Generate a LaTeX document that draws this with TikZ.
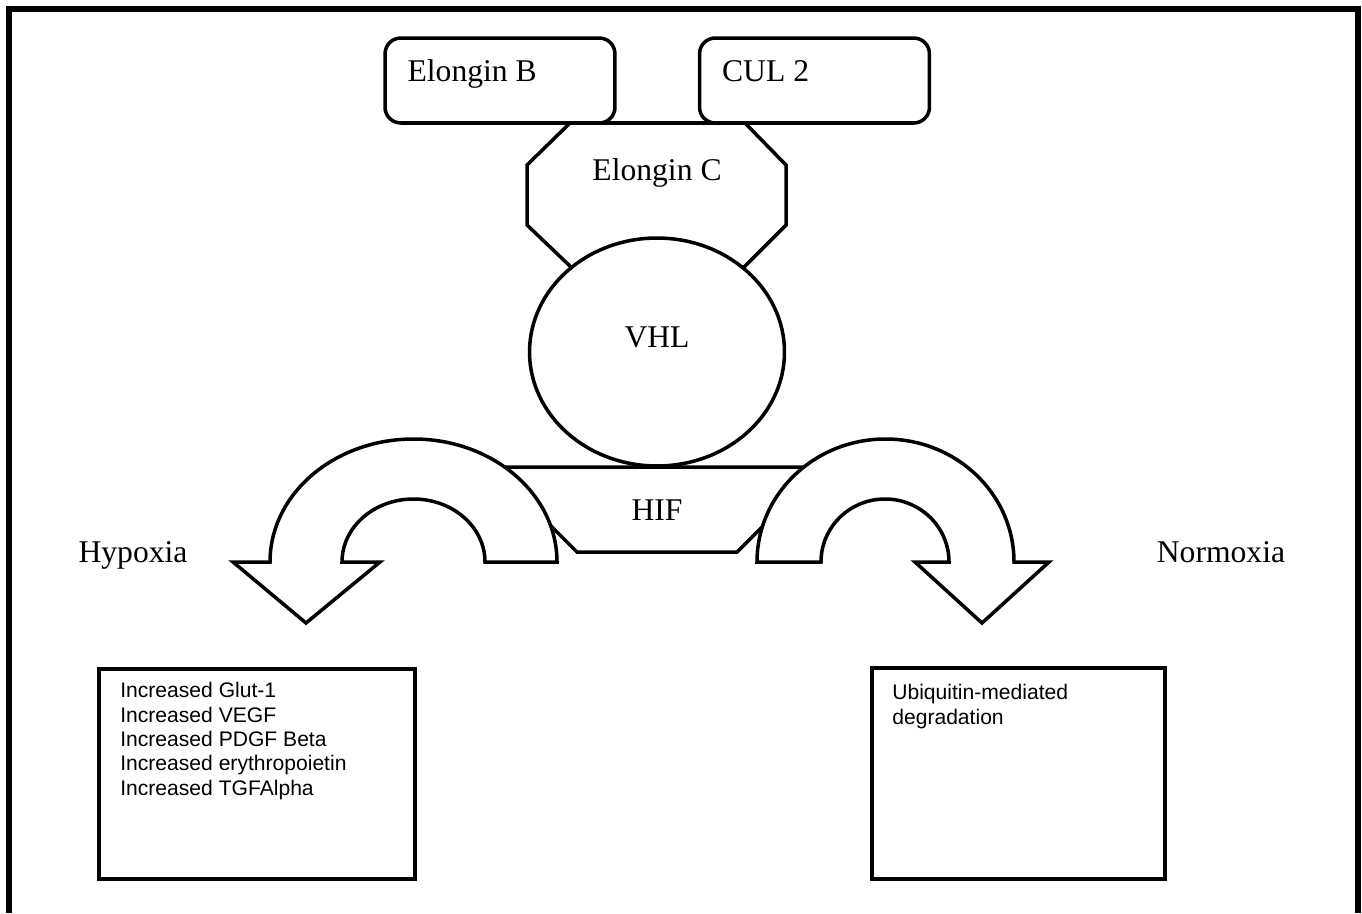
\documentclass[tikz,border=0pt]{standalone}
\usepackage{fontspec}
\setmainfont{Liberation Serif}
\setsansfont{Liberation Sans}
\usetikzlibrary{shapes.geometric}
\usetikzlibrary{positioning}
\tikzstyle{outline}=[draw=black,line width=2pt,fill=white]
\tikzstyle{roundbox}=[outline,rounded corners=9pt,inner sep=0pt,minimum width=4.6cm,minimum height=1.7cm]
\tikzstyle{resultbox}=[draw=black,line width=2.2pt,inner sep=0pt,anchor=north west]
\tikzstyle{bigtext}=[font=\fontsize{18}{20}\selectfont,inner sep=0pt]
\tikzstyle{listtext}=[font=\sffamily\fontsize{12}{13.9}\selectfont,align=left,inner sep=0pt,anchor=north west]

\begin{document}
\begin{tikzpicture}[x=0.02cm,y=-0.02cm]
\useasboundingbox (0,0) rectangle (1362,913);

%frame
\draw[line width=3.4pt] (9,913) -- (9,9) -- (1358,9) -- (1358,913);

%Elongin C
\draw[outline] (570,123) -- (745,123) -- (786,165) -- (786,225) -- (744,267)
    -- (571,267) -- (527,225) -- (527,165) -- cycle;
\node[bigtext] (elonginC) at (657,173) {Elongin C};

%top boxes
\foreach \pos/\name/\label in {{(500,80.5)}/elonginB/Elongin B, {(814.5,80.5)}/cul/CUL 2}
{
    \node[roundbox] (\name box) at \pos {};
    \node[bigtext,anchor=base west] (\name) at ([shift={(24,45)}]\name box.north west) {\label};
}

%VHL
\node[outline,ellipse,inner sep=0pt,minimum width=5.1cm,minimum height=4.56cm] (vhlshape) at (657,352) {};
\node[bigtext] (vhl) at (657,337) {VHL};

%HIF
\draw[outline] (492,467) -- (822,467) -- (737,552) -- (577,552) -- cycle;
\node[bigtext] (hif) at (657,510) {HIF};

%curved arrows
\draw[outline] (557,562) arc[start angle=0,end angle=-180,x radius=143.5,y radius=123]
    -- (233,562) -- (306,623) -- (380,562) -- (342,562)
    arc[start angle=-180,end angle=0,x radius=71.5,y radius=63] -- cycle;
\draw[outline] (757,562) arc[start angle=-180,end angle=0,x radius=128.5,y radius=123]
    -- (1049,562) -- (982,623) -- (915,562) -- (949,562)
    arc[start angle=0,end angle=-180,x radius=64,y radius=63] -- cycle;

\node[bigtext,anchor=base] (hypoxia) at (133,562) {Hypoxia};
\node[bigtext,anchor=base] (normoxia) at (1221,562) {Normoxia};

%results
\node[resultbox,minimum width=6.32cm,minimum height=4.2cm] (hypoxbox) at (97,667) {};
\node[listtext] (hypoxlist) at ([shift={(23,15)}]hypoxbox.north west)
    {Increased Glut-1\\Increased VEGF\\Increased PDGF Beta\\Increased erythropoietin\\Increased TGFAlpha};
\node[resultbox,minimum width=5.86cm,minimum height=4.22cm] (normoxbox) at (870,666) {};
\node[listtext] (normoxlist) at ([shift={(22,18)}]normoxbox.north west)
    {Ubiquitin-mediated\\degradation};

\end{tikzpicture}
\end{document}
